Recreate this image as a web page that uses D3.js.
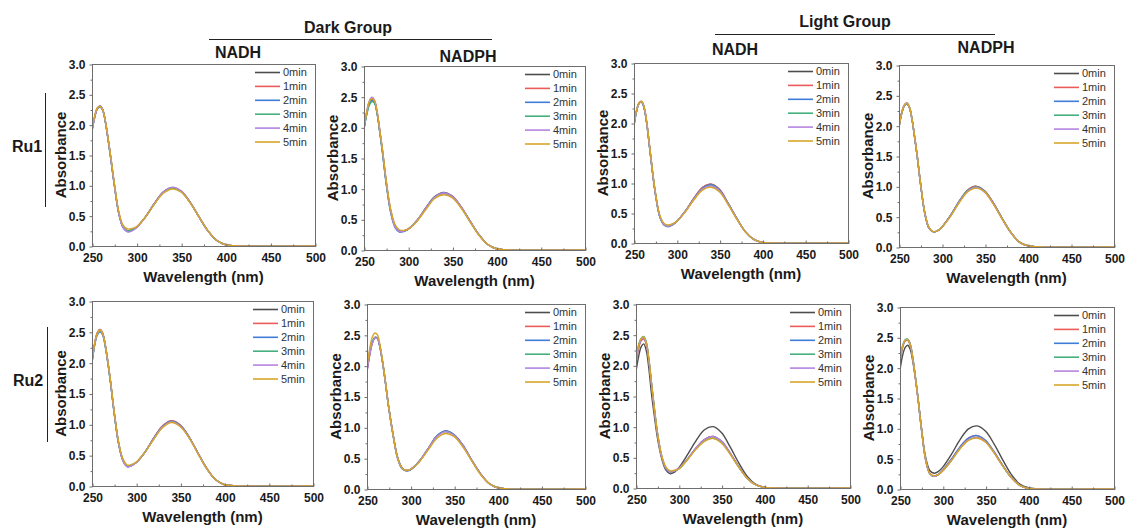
<!DOCTYPE html>
<html>
<head>
<meta charset="utf-8">
<script src="https://cdn.jsdelivr.net/npm/d3@7"></script>
<style>
  html, body { margin: 0; padding: 0; background: #fff; }
  svg { display: block; font-family: "Liberation Sans", Arial, sans-serif; }
</style>
</head>
<body>
<div id="chart"></div>
<script>
// UV-vis spectra: Ru1 / Ru2 with NADH / NADPH, dark vs light, 0-5 min

// ---------- data ----------
const WAVELENGTH = [250, 253, 256, 259, 262, 265, 268, 271, 275, 280, 285, 290, 295, 300, 310, 320, 330, 340, 350, 360, 370, 380, 390, 400, 410, 500];
const TIME_LABELS = ['0min', '1min', '2min', '3min', '4min', '5min'];
const X_TICKS = [250, 300, 350, 400, 450, 500];
const Y_TICKS = [0, 0.5, 1.0, 1.5, 2.0, 2.5, 3.0];

// one row per time point (0min ... 5min), one value per WAVELENGTH entry
const RU1_DARK_NADH = [
  [1.90, 2.12, 2.27, 2.31, 2.25, 2.05, 1.76, 1.45, 1.01, 0.54, 0.31, 0.24, 0.26, 0.31, 0.48, 0.70, 0.89, 0.96, 0.90, 0.72, 0.48, 0.25, 0.09, 0.02, 0.005, 0],
  [1.91, 2.13, 2.27, 2.30, 2.24, 2.05, 1.77, 1.46, 1.02, 0.55, 0.31, 0.25, 0.27, 0.31, 0.48, 0.70, 0.89, 0.96, 0.90, 0.72, 0.48, 0.25, 0.09, 0.02, 0.005, 0],
  [1.90, 2.12, 2.26, 2.29, 2.24, 2.04, 1.76, 1.45, 1.01, 0.54, 0.30, 0.24, 0.26, 0.31, 0.48, 0.70, 0.89, 0.96, 0.90, 0.72, 0.48, 0.25, 0.09, 0.02, 0.005, 0],
  [1.91, 2.13, 2.27, 2.30, 2.25, 2.05, 1.77, 1.46, 1.02, 0.55, 0.31, 0.25, 0.27, 0.31, 0.48, 0.70, 0.88, 0.95, 0.89, 0.72, 0.48, 0.25, 0.09, 0.02, 0.005, 0],
  [1.89, 2.12, 2.27, 2.31, 2.25, 2.05, 1.76, 1.45, 1.01, 0.54, 0.30, 0.23, 0.25, 0.30, 0.48, 0.70, 0.89, 0.97, 0.91, 0.72, 0.48, 0.25, 0.09, 0.02, 0.005, 0],
  [1.92, 2.14, 2.28, 2.30, 2.24, 2.06, 1.78, 1.48, 1.04, 0.57, 0.34, 0.28, 0.29, 0.32, 0.48, 0.69, 0.87, 0.94, 0.89, 0.71, 0.48, 0.25, 0.09, 0.02, 0.005, 0]
];

const RU1_DARK_NADPH = [
  [1.98, 2.22, 2.39, 2.45, 2.41, 2.22, 1.92, 1.60, 1.12, 0.65, 0.40, 0.31, 0.31, 0.34, 0.48, 0.69, 0.87, 0.94, 0.88, 0.70, 0.47, 0.25, 0.09, 0.02, 0.003, 0],
  [1.99, 2.24, 2.41, 2.47, 2.42, 2.23, 1.93, 1.61, 1.13, 0.66, 0.40, 0.31, 0.31, 0.34, 0.48, 0.68, 0.86, 0.93, 0.87, 0.70, 0.47, 0.25, 0.09, 0.02, 0.003, 0],
  [1.97, 2.21, 2.38, 2.44, 2.40, 2.21, 1.90, 1.57, 1.09, 0.62, 0.37, 0.29, 0.30, 0.34, 0.48, 0.68, 0.86, 0.93, 0.87, 0.70, 0.47, 0.25, 0.09, 0.02, 0.003, 0],
  [1.98, 2.20, 2.36, 2.42, 2.39, 2.21, 1.91, 1.59, 1.11, 0.64, 0.39, 0.31, 0.31, 0.34, 0.48, 0.68, 0.86, 0.92, 0.86, 0.69, 0.46, 0.25, 0.09, 0.02, 0.003, 0],
  [2.00, 2.25, 2.43, 2.49, 2.44, 2.24, 1.93, 1.61, 1.12, 0.64, 0.38, 0.30, 0.31, 0.34, 0.48, 0.68, 0.86, 0.93, 0.87, 0.70, 0.47, 0.25, 0.09, 0.02, 0.003, 0],
  [1.99, 2.24, 2.42, 2.47, 2.43, 2.24, 1.94, 1.63, 1.15, 0.68, 0.42, 0.33, 0.32, 0.34, 0.47, 0.66, 0.84, 0.90, 0.85, 0.68, 0.46, 0.24, 0.09, 0.02, 0.003, 0]
];

const RU1_LIGHT_NADH = [
  [1.97, 2.20, 2.33, 2.35, 2.24, 1.98, 1.62, 1.25, 0.82, 0.45, 0.31, 0.28, 0.31, 0.36, 0.53, 0.74, 0.92, 0.98, 0.89, 0.66, 0.41, 0.19, 0.06, 0.01, 0, 0],
  [1.97, 2.21, 2.34, 2.36, 2.25, 1.99, 1.63, 1.26, 0.83, 0.45, 0.31, 0.28, 0.31, 0.36, 0.53, 0.75, 0.93, 0.98, 0.89, 0.66, 0.41, 0.19, 0.06, 0.01, 0, 0],
  [1.96, 2.19, 2.33, 2.35, 2.24, 1.98, 1.62, 1.25, 0.82, 0.44, 0.30, 0.27, 0.30, 0.36, 0.53, 0.74, 0.91, 0.97, 0.88, 0.66, 0.41, 0.19, 0.06, 0.01, 0, 0],
  [1.97, 2.20, 2.33, 2.35, 2.24, 1.99, 1.63, 1.26, 0.83, 0.45, 0.31, 0.28, 0.31, 0.36, 0.53, 0.73, 0.90, 0.96, 0.87, 0.65, 0.41, 0.19, 0.06, 0.01, 0, 0],
  [1.97, 2.20, 2.33, 2.35, 2.24, 1.98, 1.62, 1.25, 0.82, 0.45, 0.31, 0.28, 0.31, 0.36, 0.53, 0.73, 0.90, 0.95, 0.87, 0.65, 0.41, 0.19, 0.06, 0.01, 0, 0],
  [1.98, 2.21, 2.34, 2.36, 2.26, 2.01, 1.65, 1.28, 0.85, 0.47, 0.33, 0.30, 0.32, 0.36, 0.52, 0.72, 0.88, 0.93, 0.85, 0.64, 0.40, 0.19, 0.06, 0.01, 0, 0]
];

const RU1_LIGHT_NADPH = [
  [1.98, 2.20, 2.33, 2.37, 2.31, 2.12, 1.83, 1.52, 1.05, 0.56, 0.31, 0.25, 0.27, 0.33, 0.52, 0.75, 0.94, 1.00, 0.92, 0.72, 0.47, 0.24, 0.08, 0.02, 0.004, 0],
  [1.98, 2.20, 2.33, 2.36, 2.30, 2.11, 1.83, 1.52, 1.05, 0.56, 0.31, 0.25, 0.27, 0.33, 0.52, 0.75, 0.94, 1.00, 0.92, 0.72, 0.47, 0.24, 0.08, 0.02, 0.004, 0],
  [1.97, 2.19, 2.32, 2.36, 2.30, 2.11, 1.82, 1.51, 1.04, 0.55, 0.31, 0.25, 0.27, 0.33, 0.52, 0.75, 0.93, 0.99, 0.91, 0.71, 0.47, 0.24, 0.08, 0.02, 0.004, 0],
  [1.98, 2.20, 2.33, 2.37, 2.31, 2.12, 1.83, 1.52, 1.05, 0.56, 0.31, 0.25, 0.27, 0.33, 0.52, 0.74, 0.93, 0.99, 0.91, 0.71, 0.47, 0.24, 0.08, 0.02, 0.004, 0],
  [1.98, 2.21, 2.34, 2.38, 2.31, 2.12, 1.83, 1.52, 1.05, 0.56, 0.31, 0.25, 0.27, 0.33, 0.51, 0.74, 0.92, 0.98, 0.90, 0.71, 0.46, 0.24, 0.08, 0.02, 0.004, 0],
  [1.98, 2.20, 2.33, 2.37, 2.31, 2.12, 1.84, 1.53, 1.06, 0.57, 0.32, 0.25, 0.27, 0.33, 0.51, 0.73, 0.91, 0.97, 0.90, 0.70, 0.46, 0.24, 0.08, 0.02, 0.004, 0]
];

const RU2_DARK_NADH = [
  [2.01, 2.30, 2.48, 2.54, 2.48, 2.28, 2.00, 1.68, 1.20, 0.70, 0.42, 0.32, 0.34, 0.38, 0.55, 0.78, 0.97, 1.05, 0.98, 0.79, 0.53, 0.28, 0.10, 0.02, 0.005, 0],
  [2.02, 2.31, 2.49, 2.54, 2.48, 2.29, 2.01, 1.69, 1.21, 0.71, 0.42, 0.32, 0.34, 0.38, 0.55, 0.78, 0.98, 1.06, 0.99, 0.79, 0.53, 0.28, 0.10, 0.02, 0.005, 0],
  [2.00, 2.28, 2.45, 2.50, 2.45, 2.26, 1.99, 1.67, 1.19, 0.69, 0.41, 0.31, 0.33, 0.38, 0.55, 0.78, 0.97, 1.05, 0.98, 0.79, 0.53, 0.28, 0.10, 0.02, 0.005, 0],
  [2.01, 2.29, 2.47, 2.52, 2.47, 2.28, 2.00, 1.68, 1.20, 0.70, 0.42, 0.32, 0.34, 0.38, 0.55, 0.77, 0.96, 1.04, 0.97, 0.78, 0.53, 0.28, 0.10, 0.02, 0.005, 0],
  [2.01, 2.30, 2.47, 2.53, 2.47, 2.28, 2.00, 1.68, 1.20, 0.70, 0.41, 0.31, 0.33, 0.38, 0.55, 0.77, 0.96, 1.04, 0.97, 0.78, 0.53, 0.28, 0.10, 0.02, 0.005, 0],
  [2.02, 2.31, 2.48, 2.53, 2.47, 2.29, 2.01, 1.70, 1.22, 0.72, 0.44, 0.34, 0.35, 0.39, 0.55, 0.76, 0.95, 1.03, 0.96, 0.78, 0.52, 0.28, 0.10, 0.02, 0.005, 0]
];

const RU2_DARK_NADPH = [
  [1.92, 2.18, 2.37, 2.46, 2.45, 2.30, 2.05, 1.75, 1.32, 0.88, 0.52, 0.35, 0.30, 0.32, 0.45, 0.65, 0.86, 0.94, 0.88, 0.71, 0.47, 0.25, 0.09, 0.02, 0.003, 0],
  [1.90, 2.16, 2.36, 2.45, 2.44, 2.29, 2.04, 1.74, 1.31, 0.87, 0.51, 0.34, 0.30, 0.32, 0.45, 0.65, 0.85, 0.93, 0.87, 0.70, 0.47, 0.25, 0.09, 0.02, 0.003, 0],
  [1.92, 2.18, 2.37, 2.45, 2.44, 2.29, 2.04, 1.74, 1.31, 0.86, 0.50, 0.33, 0.29, 0.31, 0.45, 0.65, 0.86, 0.94, 0.88, 0.71, 0.47, 0.25, 0.09, 0.02, 0.003, 0],
  [1.97, 2.22, 2.39, 2.46, 2.44, 2.29, 2.04, 1.74, 1.31, 0.87, 0.51, 0.34, 0.30, 0.32, 0.45, 0.65, 0.85, 0.93, 0.87, 0.70, 0.47, 0.25, 0.09, 0.02, 0.003, 0],
  [1.91, 2.17, 2.36, 2.45, 2.44, 2.29, 2.04, 1.74, 1.31, 0.87, 0.51, 0.34, 0.30, 0.32, 0.45, 0.65, 0.85, 0.93, 0.87, 0.70, 0.47, 0.25, 0.09, 0.02, 0.003, 0],
  [1.99, 2.27, 2.46, 2.53, 2.50, 2.33, 2.07, 1.76, 1.32, 0.87, 0.51, 0.34, 0.30, 0.32, 0.44, 0.63, 0.82, 0.90, 0.85, 0.68, 0.46, 0.24, 0.09, 0.02, 0.003, 0]
];

const RU2_LIGHT_NADH = [
  [1.90, 2.14, 2.30, 2.35, 2.24, 1.95, 1.55, 1.22, 0.82, 0.48, 0.29, 0.23, 0.26, 0.33, 0.54, 0.77, 0.95, 1.00, 0.90, 0.67, 0.41, 0.19, 0.06, 0.01, 0, 0],
  [2.03, 2.27, 2.40, 2.43, 2.34, 2.08, 1.70, 1.33, 0.89, 0.51, 0.32, 0.26, 0.28, 0.32, 0.47, 0.65, 0.79, 0.84, 0.76, 0.57, 0.35, 0.16, 0.05, 0.01, 0, 0],
  [2.06, 2.30, 2.42, 2.45, 2.36, 2.09, 1.71, 1.34, 0.89, 0.51, 0.32, 0.26, 0.28, 0.32, 0.47, 0.65, 0.79, 0.84, 0.76, 0.57, 0.35, 0.16, 0.05, 0.01, 0, 0],
  [2.10, 2.33, 2.44, 2.47, 2.38, 2.11, 1.73, 1.36, 0.91, 0.52, 0.33, 0.27, 0.28, 0.31, 0.46, 0.64, 0.77, 0.81, 0.74, 0.56, 0.34, 0.16, 0.05, 0.01, 0, 0],
  [2.05, 2.29, 2.42, 2.45, 2.36, 2.09, 1.71, 1.34, 0.89, 0.51, 0.32, 0.26, 0.28, 0.32, 0.47, 0.65, 0.79, 0.84, 0.76, 0.57, 0.35, 0.16, 0.05, 0.01, 0, 0],
  [2.08, 2.32, 2.44, 2.46, 2.37, 2.10, 1.72, 1.36, 0.91, 0.53, 0.34, 0.28, 0.29, 0.31, 0.46, 0.63, 0.76, 0.81, 0.73, 0.55, 0.34, 0.16, 0.05, 0.01, 0, 0]
];

const RU2_LIGHT_NADPH = [
  [1.96, 2.20, 2.33, 2.37, 2.30, 2.10, 1.82, 1.50, 1.02, 0.52, 0.30, 0.26, 0.29, 0.36, 0.57, 0.81, 0.99, 1.04, 0.95, 0.74, 0.48, 0.24, 0.08, 0.02, 0.003, 0],
  [2.10, 2.33, 2.44, 2.45, 2.37, 2.14, 1.83, 1.49, 0.99, 0.48, 0.25, 0.21, 0.24, 0.31, 0.49, 0.69, 0.84, 0.88, 0.80, 0.61, 0.39, 0.19, 0.06, 0.01, 0.002, 0],
  [2.11, 2.34, 2.45, 2.46, 2.38, 2.15, 1.84, 1.50, 1.00, 0.48, 0.25, 0.21, 0.24, 0.31, 0.49, 0.69, 0.84, 0.88, 0.80, 0.61, 0.39, 0.19, 0.06, 0.01, 0.002, 0],
  [2.13, 2.36, 2.46, 2.47, 2.39, 2.16, 1.85, 1.51, 1.00, 0.48, 0.25, 0.21, 0.24, 0.30, 0.47, 0.67, 0.81, 0.85, 0.78, 0.60, 0.38, 0.19, 0.06, 0.01, 0.002, 0],
  [2.12, 2.35, 2.45, 2.46, 2.38, 2.15, 1.84, 1.50, 1.00, 0.48, 0.25, 0.21, 0.24, 0.30, 0.47, 0.67, 0.81, 0.85, 0.78, 0.60, 0.38, 0.19, 0.06, 0.01, 0.002, 0],
  [2.12, 2.35, 2.45, 2.46, 2.38, 2.15, 1.84, 1.50, 1.00, 0.48, 0.25, 0.22, 0.24, 0.30, 0.47, 0.66, 0.80, 0.84, 0.77, 0.59, 0.38, 0.19, 0.06, 0.01, 0.002, 0]
];

// ---------- style ----------
const CONFIG = {
  WIDTH: 1126,
  HEIGHT: 531,
  SERIES_COLORS: ['#4d4d4d', '#ec5b5b', '#3f7dd8', '#43b07e', '#b585e0', '#d8a52a'],
  FRAME_COLOR: '#6e6e6e',
  TEXT_COLOR: '#1a1a1a',
  LEGEND_TEXT: '#333333',
  LINE_WIDTH: 1.4,
  TICK_FONT: '12px'
};

// panel boxes (plot area) + where its title sits
const PANELS = [
  { x0: 92,  x1: 315,  y0: 64,  y1: 246, data: RU1_DARK_NADH,   title: 'NADH',  tx: 238, ty: 58 },
  { x0: 364, x1: 585,  y0: 66,  y1: 250, data: RU1_DARK_NADPH,  title: 'NADPH', tx: 468, ty: 62 },
  { x0: 634, x1: 848,  y0: 63,  y1: 243, data: RU1_LIGHT_NADH,  title: 'NADH',  tx: 735, ty: 55 },
  { x0: 899, x1: 1114, y0: 65,  y1: 247, data: RU1_LIGHT_NADPH, title: 'NADPH', tx: 986, ty: 53 },
  { x0: 92,  x1: 313,  y0: 301, y1: 486, data: RU2_DARK_NADH },
  { x0: 367, x1: 585,  y0: 304, y1: 489, data: RU2_DARK_NADPH },
  { x0: 636, x1: 850,  y0: 304, y1: 488, data: RU2_LIGHT_NADH },
  { x0: 900, x1: 1114, y0: 307, y1: 489, data: RU2_LIGHT_NADPH }
];

const svg = d3.select('#chart')
  .append('svg')
  .attr('width', CONFIG.WIDTH)
  .attr('height', CONFIG.HEIGHT);

PANELS.forEach((p, i) => drawPanel(p, i));
drawHeaders();

function drawPanel(p, i) {
  const x = d3.scaleLinear().domain([250, 500]).range([p.x0, p.x1]);
  const y = d3.scaleLinear().domain([0, 3]).range([p.y1, p.y0]);

  const g = svg.append('g').attr('class', 'panel');

  // clip so curves stay inside the frame
  g.append('clipPath').attr('id', 'clip' + i)
    .append('rect')
    .attr('x', p.x0).attr('y', p.y0)
    .attr('width', p.x1 - p.x0).attr('height', p.y1 - p.y0);

  // spectra (0min first, 5min last on top)
  const line = d3.line()
    .x((d, k) => x(WAVELENGTH[k]))
    .y(d => y(d))
    .curve(d3.curveCatmullRom.alpha(0.5));

  g.append('g').attr('clip-path', `url(#clip${i})`)
    .selectAll('path.spec')
    .data(p.data)
    .join('path')
    .attr('class', 'spec')
    .attr('d', line)
    .attr('fill', 'none')
    .attr('stroke', (d, k) => CONFIG.SERIES_COLORS[k])
    .attr('stroke-width', CONFIG.LINE_WIDTH);

  // frame
  g.append('rect')
    .attr('x', p.x0 + 0.5).attr('y', p.y0 + 0.5)
    .attr('width', p.x1 - p.x0).attr('height', p.y1 - p.y0)
    .attr('fill', 'none')
    .attr('stroke', CONFIG.FRAME_COLOR);

  // left axis: outward ticks
  const yAxis = g.append('g')
    .attr('transform', `translate(${p.x0 + 0.5},0.5)`)
    .call(d3.axisLeft(y).tickValues(Y_TICKS).tickFormat(d3.format('.1f')).tickSize(3).tickPadding(4));
  g.append('g')
    .attr('transform', `translate(${p.x0 + 0.5},0.5)`)
    .call(d3.axisLeft(y).tickValues([0.25, 0.75, 1.25, 1.75, 2.25, 2.75]).tickFormat('').tickSize(2))
    .call(a => a.select('.domain').remove());

  // bottom axis: inward ticks
  const xAxis = g.append('g')
    .attr('transform', `translate(0.5,${p.y1 + 0.5})`)
    .call(d3.axisBottom(x).tickValues(X_TICKS).tickSize(-3).tickPadding(7));
  g.append('g')
    .attr('transform', `translate(0.5,${p.y1 + 0.5})`)
    .call(d3.axisBottom(x).tickValues([275, 325, 375, 425, 475]).tickFormat('').tickSize(-2))
    .call(a => a.select('.domain').remove());

  [yAxis, xAxis].forEach(a => {
    a.select('.domain').remove();
    a.selectAll('text')
      .attr('fill', CONFIG.TEXT_COLOR)
      .style('font-size', CONFIG.TICK_FONT)
      .style('font-weight', 'bold')
      .style('font-family', '"Liberation Sans", Arial, sans-serif');
  });
  g.selectAll('.tick line').attr('stroke', CONFIG.FRAME_COLOR);

  // axis titles
  g.append('text')
    .attr('x', (p.x0 + p.x1) / 2)
    .attr('y', p.y1 + 36)
    .attr('text-anchor', 'middle')
    .attr('fill', CONFIG.TEXT_COLOR)
    .style('font-size', '15px')
    .style('font-weight', 'bold')
    .text('Wavelength (nm)');

  g.append('text')
    .attr('transform', `translate(${p.x0 - 26},${(p.y0 + p.y1) / 2}) rotate(-90)`)
    .attr('text-anchor', 'middle')
    .attr('fill', CONFIG.TEXT_COLOR)
    .style('font-size', '15px')
    .style('font-weight', 'bold')
    .text('Absorbance');

  // legend, top right
  const leg = g.append('g')
    .attr('transform', `translate(${p.x1 - 60},${p.y0 + 8.5})`);
  TIME_LABELS.forEach((label, k) => {
    const row = leg.append('g').attr('transform', `translate(0,${k * 13.9})`);
    row.append('line')
      .attr('x1', 0).attr('x2', 25)
      .attr('stroke', CONFIG.SERIES_COLORS[k])
      .attr('stroke-width', 1.6);
    row.append('text')
      .attr('x', 28)
      .attr('dy', '0.35em')
      .attr('fill', CONFIG.LEGEND_TEXT)
      .style('font-size', '11px')
      .text(label);
  });

  // column title (top row only)
  if (p.title) {
    g.append('text')
      .attr('x', p.tx).attr('y', p.ty)
      .attr('text-anchor', 'middle')
      .attr('fill', CONFIG.TEXT_COLOR)
      .style('font-size', '16px')
      .style('font-weight', 'bold')
      .text(p.title);
  }
}

// group headers and row labels
function drawHeaders() {
  const heads = [
    { text: 'Dark Group',  x: 348, y: 33, lx0: 209, lx1: 492, ly: 39.5 },
    { text: 'Light Group', x: 845, y: 27, lx0: 715, lx1: 995, ly: 34.5 }
  ];
  heads.forEach(h => {
    svg.append('text')
      .attr('x', h.x).attr('y', h.y)
      .attr('text-anchor', 'middle')
      .attr('fill', CONFIG.TEXT_COLOR)
      .style('font-size', '16px')
      .style('font-weight', 'bold')
      .text(h.text);
    svg.append('line')
      .attr('x1', h.lx0).attr('x2', h.lx1)
      .attr('y1', h.ly).attr('y2', h.ly)
      .attr('stroke', '#222');
  });

  const rows = [
    { text: 'Ru1', x: 12, y: 152, bx: 45.5, by0: 93, by1: 207 },
    { text: 'Ru2', x: 13, y: 386, bx: 47.5, by0: 327, by1: 442 }
  ];
  rows.forEach(r => {
    svg.append('text')
      .attr('x', r.x).attr('y', r.y)
      .attr('fill', CONFIG.TEXT_COLOR)
      .style('font-size', '16px')
      .style('font-weight', 'bold')
      .text(r.text);
    svg.append('line')
      .attr('x1', r.bx).attr('x2', r.bx)
      .attr('y1', r.by0).attr('y2', r.by1)
      .attr('stroke', '#222');
  });
}
</script>
</body>
</html>
